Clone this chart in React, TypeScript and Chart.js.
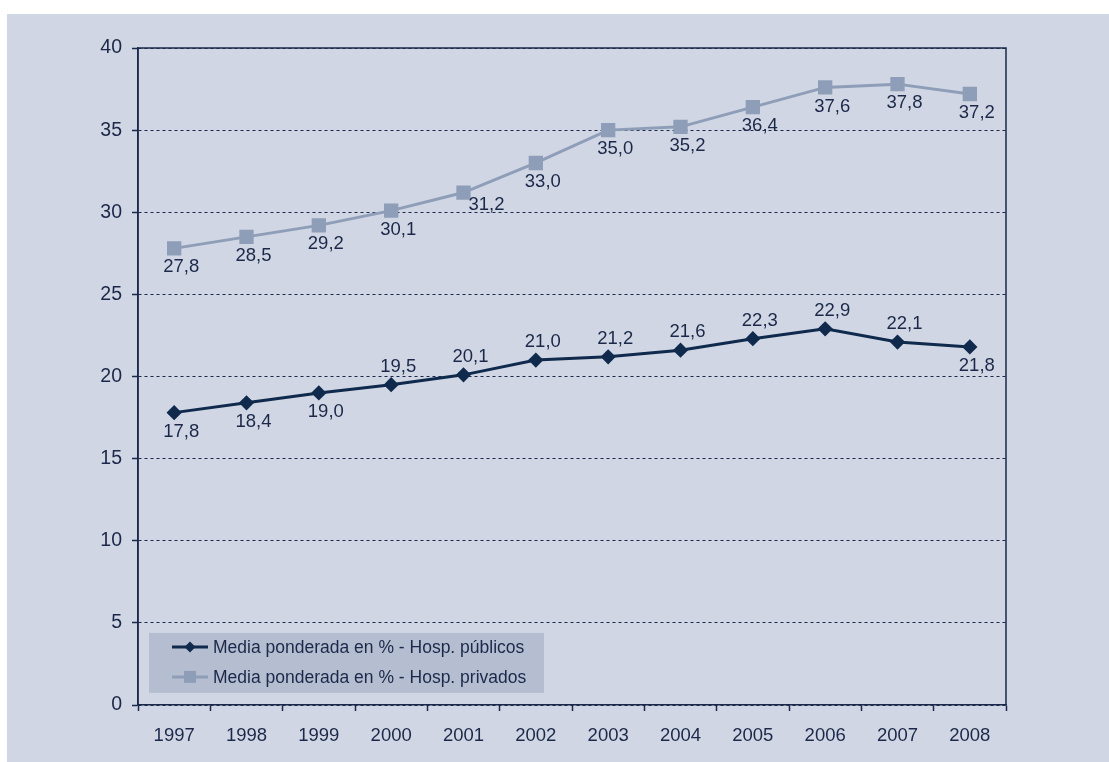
import React, { useEffect, useRef } from "react";
import { Chart, registerables } from "chart.js";

Chart.register(...registerables);

const years = ["1997", "1998", "1999", "2000", "2001", "2002", "2003", "2004", "2005", "2006", "2007", "2008"];
const publicValues = [17.8, 18.4, 19.0, 19.5, 20.1, 21.0, 21.2, 21.6, 22.3, 22.9, 22.1, 21.8];
const privateValues = [27.8, 28.5, 29.2, 30.1, 31.2, 33.0, 35.0, 35.2, 36.4, 37.6, 37.8, 37.2];
const publicLabelPlacement = ["below", "below", "below", "above", "above", "above", "above", "above", "above", "above", "above", "below"];
const privateLabelPlacement = ["below", "below", "below", "below", "right", "below", "below", "below", "below", "below", "below", "below"];
const seriesNames = ["Media ponderada en % - Hosp. públicos", "Media ponderada en % - Hosp. privados"];
const yTicks = [0, 5, 10, 15, 20, 25, 30, 35, 40];

const NAVY = "#1b2849";
const PUBLIC_COLOR = "#0f2a4c";
const PRIVATE_COLOR = "#8f9eb8";
const PANEL_BG = "#d0d6e3";
const LEGEND_BG = "#b5bdd0";
const FONT = "'Liberation Sans', Arial, sans-serif";

const fmt = (v: number) => v.toFixed(1).replace(".", ",");

const placements = [publicLabelPlacement, privateLabelPlacement];

const labelsPlugin = {
  id: "pointLabels",
  afterDatasetsDraw(chart: any) {
    const ctx = chart.ctx;
    ctx.save();
    ctx.font = `18.5px ${FONT}`;
    ctx.fillStyle = NAVY;
    ctx.textAlign = "center";
    ctx.textBaseline = "middle";
    chart.data.datasets.forEach((ds: any, di: number) => {
      const meta = chart.getDatasetMeta(di);
      meta.data.forEach((pt: any, i: number) => {
        const p = placements[di][i];
        let dx = 7;
        let dy = 19;
        if (p === "above") dy = -18;
        if (p === "right") { dx = 23; dy = 12; }
        ctx.fillText(fmt(ds.data[i]), pt.x + dx, pt.y + dy);
      });
    });
    ctx.restore();
  },
};

const framePlugin = {
  id: "frameAndLegend",
  afterDraw(chart: any) {
    const { ctx, chartArea } = chart;
    const { left, top, right, bottom } = chartArea;
    ctx.save();
    ctx.strokeStyle = NAVY;
    ctx.lineWidth = 1.5;
    ctx.beginPath();
    ctx.moveTo(left, bottom);
    ctx.lineTo(left, top);
    ctx.lineTo(right, top);
    ctx.lineTo(right, bottom);
    ctx.stroke();

    // legend box
    const bx = left + 11;
    const by = chart.scales.y.getPixelForValue(5) + 10;
    const bw = 395;
    const bh = 60;
    ctx.fillStyle = LEGEND_BG;
    ctx.fillRect(bx, by, bw, bh);
    const items = [
      { color: PUBLIC_COLOR, style: "diamond" },
      { color: PRIVATE_COLOR, style: "square" },
    ];
    items.forEach((it, i) => {
      const cy = by + 14 + i * 30;
      const lx1 = bx + 23;
      const lx2 = bx + 59;
      ctx.strokeStyle = it.color;
      ctx.lineWidth = 3;
      ctx.beginPath();
      ctx.moveTo(lx1, cy);
      ctx.lineTo(lx2, cy);
      ctx.stroke();
      const mx = (lx1 + lx2) / 2;
      ctx.fillStyle = it.color;
      ctx.beginPath();
      if (it.style === "diamond") {
        ctx.moveTo(mx, cy - 5.5);
        ctx.lineTo(mx + 5.5, cy);
        ctx.lineTo(mx, cy + 5.5);
        ctx.lineTo(mx - 5.5, cy);
        ctx.closePath();
        ctx.fill();
      } else {
        ctx.fillRect(mx - 6, cy - 6, 12, 12);
      }
      ctx.fillStyle = NAVY;
      ctx.font = `17.5px ${FONT}`;
      ctx.textAlign = "left";
      ctx.textBaseline = "middle";
      ctx.fillText(seriesNames[i], bx + 64, cy + 1);
    });
    ctx.restore();
  },
};

export default function App() {
  const canvasRef = useRef<HTMLCanvasElement | null>(null);

  useEffect(() => {
    if (!canvasRef.current) return;
    const chart = new Chart(canvasRef.current, {
      type: "line",
      data: {
        labels: years,
        datasets: [
          {
            label: seriesNames[0],
            data: publicValues,
            borderColor: PUBLIC_COLOR,
            backgroundColor: PUBLIC_COLOR,
            borderWidth: 3,
            pointStyle: "rectRot",
            pointRadius: 5.5,
            pointHoverRadius: 5.5,
            tension: 0,
            order: 0,
          },
          {
            label: seriesNames[1],
            data: privateValues,
            borderColor: PRIVATE_COLOR,
            backgroundColor: PRIVATE_COLOR,
            borderWidth: 3,
            pointStyle: "rect",
            pointRadius: 8,
            pointHoverRadius: 8,
            tension: 0,
            order: 1,
          },
        ],
      },
      options: {
        responsive: false,
        animation: false,
        layout: { padding: { top: 34, right: 103, left: 0, bottom: 0 } },
        plugins: {
          legend: { display: false },
          tooltip: { enabled: false },
        },
        scales: {
          x: {
            type: "category",
            offset: true,
            grid: {
              offset: true,
              drawOnChartArea: false,
              drawTicks: true,
              tickLength: 6,
              tickColor: NAVY,
              tickWidth: 1.5,
            },
            border: { display: true, color: NAVY, width: 1.5 },
            ticks: {
              color: NAVY,
              font: { family: FONT, size: 18.5 },
              padding: 14,
              maxRotation: 0,
              autoSkip: false,
            },
            afterFit: (scale: any) => {
              scale.height = 57;
            },
          },
          y: {
            min: 0,
            max: 40,
            afterBuildTicks: (scale: any) => {
              scale.ticks = yTicks.map((v) => ({ value: v }));
            },
            grid: {
              color: NAVY,
              lineWidth: 1,
              drawTicks: true,
              tickLength: 6,
              tickColor: NAVY,
              tickWidth: 1.5,
              tickBorderDash: [],
            },
            border: { display: true, color: NAVY, width: 1.5, dash: [3, 3] },
            ticks: {
              color: NAVY,
              font: { family: FONT, size: 19.5 },
              padding: 10,
              callback: (v: any) => String(v),
            },
            afterFit: (scale: any) => {
              scale.width = 131;
            },
          },
        },
      },
      plugins: [labelsPlugin, framePlugin],
    });
    return () => chart.destroy();
  }, []);

  return (
    <div style={{ position: "absolute", left: 0, top: 0, width: 1109, height: 762, background: "#ffffff", overflow: "hidden" }}>
      <div style={{ position: "absolute", left: 7, top: 14, width: 1102, height: 748, background: PANEL_BG }}>
        <canvas ref={canvasRef} width={1102} height={748} style={{ display: "block" }} />
      </div>
    </div>
  );
}
